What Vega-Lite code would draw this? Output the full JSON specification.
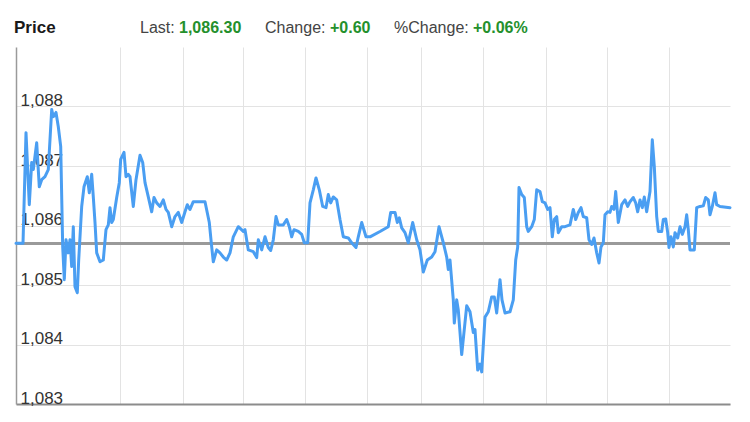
{
  "$schema": "https://vega.github.io/schema/vega-lite/v6.json",
  "autosize": "none",
  "width": 714,
  "height": 357,
  "padding": {"left": 16, "top": 47, "right": 20, "bottom": 18},
  "background": "white",
  "config": {
    "view": {"stroke": null},
    "font": "Liberation Sans",
    "axis": {"labelFont": "Liberation Sans", "titleFont": "Liberation Sans"}
  },
  "datasets": {
    "price": [
      {"t":0,"v":1085.70},{"t":7,"v":1085.70},{"t":10,"v":1087.56},{"t":13.3,"v":1086.35},{"t":15.7,"v":1087.06},{"t":17.3,"v":1086.94},{"t":20.7,"v":1087.39},{"t":23.3,"v":1086.65},{"t":25.7,"v":1086.77},{"t":29,"v":1086.82},{"t":32.3,"v":1086.94},{"t":35.7,"v":1087.95},{"t":37.3,"v":1087.83},{"t":40,"v":1087.90},{"t":42.3,"v":1087.66},{"t":44.7,"v":1087.33},{"t":46.7,"v":1085.64},{"t":48.3,"v":1085.09},{"t":50,"v":1085.76},{"t":52.3,"v":1085.54},{"t":54,"v":1085.76},{"t":55.7,"v":1085.31},{"t":57.3,"v":1085.98},{"t":59,"v":1084.97},{"t":61.3,"v":1084.87},{"t":62.7,"v":1085.42},{"t":65.7,"v":1086.32},{"t":68,"v":1086.65},{"t":71.3,"v":1086.82},{"t":73.3,"v":1086.55},{"t":75.7,"v":1086.86},{"t":77.3,"v":1086.48},{"t":79,"v":1086.05},{"t":80.7,"v":1085.54},{"t":84,"v":1085.39},{"t":87.3,"v":1085.42},{"t":90,"v":1085.93},{"t":92.3,"v":1086.01},{"t":94,"v":1086.30},{"t":95.7,"v":1086.05},{"t":97.3,"v":1086.10},{"t":100.7,"v":1086.47},{"t":103.3,"v":1086.72},{"t":104.7,"v":1087.11},{"t":108,"v":1087.23},{"t":110,"v":1086.82},{"t":112.3,"v":1086.86},{"t":114,"v":1086.82},{"t":117.3,"v":1086.32},{"t":120,"v":1086.77},{"t":124,"v":1087.18},{"t":126.7,"v":1087.06},{"t":129,"v":1086.72},{"t":132.3,"v":1086.48},{"t":135.7,"v":1086.23},{"t":138,"v":1086.47},{"t":140.7,"v":1086.38},{"t":144,"v":1086.32},{"t":147.3,"v":1086.43},{"t":150,"v":1086.27},{"t":152.3,"v":1086.22},{"t":155.7,"v":1085.98},{"t":159,"v":1086.15},{"t":162.3,"v":1086.22},{"t":165.7,"v":1086.05},{"t":169,"v":1086.23},{"t":171.3,"v":1086.35},{"t":174,"v":1086.27},{"t":177.3,"v":1086.40},{"t":180.7,"v":1086.40},{"t":189,"v":1086.40},{"t":193.3,"v":1086.05},{"t":195.7,"v":1085.64},{"t":197.3,"v":1085.39},{"t":200.7,"v":1085.59},{"t":204,"v":1085.54},{"t":207.3,"v":1085.47},{"t":210.7,"v":1085.42},{"t":214,"v":1085.54},{"t":217.3,"v":1085.81},{"t":222.3,"v":1085.98},{"t":227.3,"v":1085.90},{"t":229,"v":1085.93},{"t":232.3,"v":1085.59},{"t":237.3,"v":1085.56},{"t":240.7,"v":1085.46},{"t":242.3,"v":1085.76},{"t":245.7,"v":1085.59},{"t":249,"v":1085.81},{"t":252.3,"v":1085.63},{"t":254.7,"v":1085.58},{"t":257.3,"v":1085.76},{"t":260,"v":1086.15},{"t":262.3,"v":1086.01},{"t":267.3,"v":1086.01},{"t":270.7,"v":1086.10},{"t":273.3,"v":1085.98},{"t":275.7,"v":1085.81},{"t":278,"v":1085.93},{"t":282.3,"v":1085.90},{"t":285.7,"v":1085.85},{"t":288.3,"v":1085.71},{"t":291.7,"v":1085.71},{"t":294,"v":1086.38},{"t":297.3,"v":1086.60},{"t":300,"v":1086.80},{"t":303.3,"v":1086.60},{"t":306.7,"v":1086.32},{"t":310,"v":1086.30},{"t":312.3,"v":1086.52},{"t":314.7,"v":1086.38},{"t":317.3,"v":1086.48},{"t":320.7,"v":1086.43},{"t":324,"v":1086.10},{"t":327.3,"v":1085.81},{"t":332.3,"v":1085.79},{"t":335.7,"v":1085.71},{"t":340,"v":1085.63},{"t":342.3,"v":1085.81},{"t":345.7,"v":1086.05},{"t":350,"v":1085.81},{"t":354,"v":1085.81},{"t":364,"v":1085.90},{"t":372.3,"v":1085.98},{"t":374.7,"v":1086.22},{"t":379,"v":1086.22},{"t":381.3,"v":1086.05},{"t":383.3,"v":1086.13},{"t":385.7,"v":1085.96},{"t":389,"v":1085.88},{"t":392.3,"v":1085.71},{"t":396.7,"v":1086.05},{"t":400.7,"v":1085.76},{"t":404,"v":1085.59},{"t":407.3,"v":1085.22},{"t":411.3,"v":1085.42},{"t":415.7,"v":1085.47},{"t":419,"v":1085.56},{"t":423,"v":1085.98},{"t":427.3,"v":1085.71},{"t":430.7,"v":1085.47},{"t":432.3,"v":1085.26},{"t":434,"v":1085.42},{"t":437.3,"v":1084.75},{"t":438.3,"v":1084.36},{"t":440.7,"v":1084.75},{"t":442.3,"v":1084.58},{"t":445.7,"v":1083.83},{"t":450.7,"v":1084.65},{"t":454,"v":1084.55},{"t":457.3,"v":1084.20},{"t":459,"v":1084.25},{"t":461.7,"v":1083.57},{"t":464,"v":1083.67},{"t":465.7,"v":1083.54},{"t":469,"v":1084.46},{"t":472.3,"v":1084.55},{"t":475.7,"v":1084.80},{"t":478.3,"v":1084.80},{"t":480.7,"v":1084.53},{"t":484,"v":1085.09},{"t":486,"v":1084.75},{"t":489,"v":1084.53},{"t":494,"v":1084.55},{"t":497.3,"v":1084.75},{"t":499.7,"v":1085.42},{"t":501.7,"v":1085.64},{"t":503,"v":1086.64},{"t":505.7,"v":1086.52},{"t":508.3,"v":1086.47},{"t":510.7,"v":1085.98},{"t":512.3,"v":1085.90},{"t":515.7,"v":1085.98},{"t":518.3,"v":1086.10},{"t":520.7,"v":1086.60},{"t":524,"v":1086.57},{"t":526.3,"v":1086.40},{"t":529,"v":1086.38},{"t":531.7,"v":1086.27},{"t":534,"v":1086.30},{"t":536.3,"v":1085.81},{"t":538.3,"v":1086.10},{"t":540.7,"v":1086.15},{"t":542.3,"v":1085.88},{"t":545.7,"v":1085.98},{"t":549,"v":1085.98},{"t":554,"v":1086.01},{"t":557.3,"v":1086.27},{"t":559.7,"v":1086.10},{"t":562.3,"v":1086.22},{"t":565,"v":1086.30},{"t":567.3,"v":1086.15},{"t":570.7,"v":1086.13},{"t":573,"v":1085.76},{"t":575.7,"v":1085.68},{"t":578,"v":1085.79},{"t":580.7,"v":1085.54},{"t":583,"v":1085.37},{"t":585,"v":1085.64},{"t":587.3,"v":1085.71},{"t":589,"v":1086.18},{"t":591.7,"v":1086.23},{"t":594,"v":1086.22},{"t":595.7,"v":1086.32},{"t":598,"v":1086.27},{"t":599.7,"v":1086.57},{"t":602.3,"v":1086.05},{"t":605.7,"v":1086.35},{"t":609,"v":1086.43},{"t":611.7,"v":1086.32},{"t":614,"v":1086.40},{"t":617.3,"v":1086.47},{"t":619.7,"v":1086.38},{"t":621.7,"v":1086.23},{"t":624,"v":1086.43},{"t":626.3,"v":1086.30},{"t":628.3,"v":1086.48},{"t":630.7,"v":1086.23},{"t":632.3,"v":1086.40},{"t":634,"v":1086.57},{"t":636.3,"v":1087.44},{"t":638.3,"v":1086.99},{"t":640.7,"v":1086.15},{"t":642.3,"v":1085.90},{"t":645.7,"v":1085.90},{"t":647.3,"v":1086.10},{"t":649.7,"v":1086.11},{"t":651.7,"v":1085.88},{"t":653,"v":1085.63},{"t":655,"v":1085.81},{"t":657.3,"v":1085.64},{"t":659,"v":1085.88},{"t":661.7,"v":1085.79},{"t":664,"v":1085.98},{"t":666.3,"v":1085.85},{"t":669,"v":1085.98},{"t":670.7,"v":1086.18},{"t":672.3,"v":1085.93},{"t":674,"v":1085.59},{"t":678.3,"v":1085.59},{"t":680.7,"v":1086.30},{"t":684,"v":1086.32},{"t":687.3,"v":1086.33},{"t":689.7,"v":1086.47},{"t":692.3,"v":1086.43},{"t":694,"v":1086.18},{"t":696.3,"v":1086.32},{"t":699,"v":1086.55},{"t":700.7,"v":1086.35},{"t":704,"v":1086.32},{"t":714,"v":1086.30}
    ],
    "header": [
      {"item": "Price", "kind": "title"},
      {"item": "Last:", "kind": "label"},
      {"item": "1,086.30", "kind": "value"},
      {"item": "Change:", "kind": "label"},
      {"item": "+0.60", "kind": "value"},
      {"item": "%Change:", "kind": "label"},
      {"item": "+0.06%", "kind": "value"}
    ]
  },
  "layer": [
    {
      "data": {"name": "price"},
      "mark": {"type": "rule", "color": "#9a9a9a", "strokeWidth": 2.5},
      "encoding": {"y": {"datum": 1085.70, "type": "quantitative", "scale": {"domain": [1083, 1089], "nice": false, "zero": false}}}
    },
    {
      "data": {"name": "price"},
      "mark": {"type": "line", "color": "#4a9ef2", "strokeWidth": 3, "strokeJoin": "round", "strokeCap": "round", "interpolate": "linear"},
      "encoding": {
        "x": {
          "field": "t", "type": "quantitative",
          "scale": {"domain": [0, 714], "nice": false, "zero": false},
          "axis": {
            "title": null, "labels": false, "ticks": false,
            "values": [104, 166.7, 227.3, 289, 351.3, 405, 467.3, 530, 590.7, 653.3],
            "grid": true, "gridColor": "#e3e3e3", "gridWidth": 1,
            "domain": true, "domainColor": "#8c8c8c", "domainWidth": 2
          }
        },
        "y": {
          "field": "v", "type": "quantitative",
          "scale": {"domain": [1083, 1089], "nice": false, "zero": false},
          "axis": {
            "title": null, "ticks": false,
            "values": [1083, 1084, 1085, 1086, 1087, 1088],
            "format": ",d",
            "labelAlign": "left", "labelBaseline": "alphabetic", "labelPadding": -4, "labelOffset": -1,
            "labelFontSize": 17, "labelColor": "#333333",
            "grid": true, "gridColor": "#e3e3e3", "gridWidth": 1,
            "domain": true, "domainColor": "#9a9a9a", "domainWidth": 1.5
          }
        }
      }
    },
    {
      "data": {"name": "header"},
      "transform": [{"filter": "datum.item === 'Price'"}],
      "mark": {"type": "text", "x": -2, "y": -14, "align": "left", "baseline": "alphabetic", "fontSize": 17, "fontWeight": "bold", "color": "#1a1a1a"},
      "encoding": {"text": {"field": "item"}}
    },
    {
      "data": {"name": "header"},
      "transform": [{"filter": "datum.item === 'Last:'"}],
      "mark": {"type": "text", "x": 124, "y": -14, "align": "left", "baseline": "alphabetic", "fontSize": 16, "color": "#444444"},
      "encoding": {"text": {"field": "item"}}
    },
    {
      "data": {"name": "header"},
      "transform": [{"filter": "datum.item === '1,086.30'"}],
      "mark": {"type": "text", "x": 163, "y": -14, "align": "left", "baseline": "alphabetic", "fontSize": 16, "fontWeight": "bold", "color": "#24902c"},
      "encoding": {"text": {"field": "item"}}
    },
    {
      "data": {"name": "header"},
      "transform": [{"filter": "datum.item === 'Change:'"}],
      "mark": {"type": "text", "x": 249, "y": -14, "align": "left", "baseline": "alphabetic", "fontSize": 16, "color": "#444444"},
      "encoding": {"text": {"field": "item"}}
    },
    {
      "data": {"name": "header"},
      "transform": [{"filter": "datum.item === '+0.60'"}],
      "mark": {"type": "text", "x": 314, "y": -14, "align": "left", "baseline": "alphabetic", "fontSize": 16, "fontWeight": "bold", "color": "#24902c"},
      "encoding": {"text": {"field": "item"}}
    },
    {
      "data": {"name": "header"},
      "transform": [{"filter": "datum.item === '%Change:'"}],
      "mark": {"type": "text", "x": 378, "y": -14, "align": "left", "baseline": "alphabetic", "fontSize": 16, "color": "#444444"},
      "encoding": {"text": {"field": "item"}}
    },
    {
      "data": {"name": "header"},
      "transform": [{"filter": "datum.item === '+0.06%'"}],
      "mark": {"type": "text", "x": 457, "y": -14, "align": "left", "baseline": "alphabetic", "fontSize": 16, "fontWeight": "bold", "color": "#24902c"},
      "encoding": {"text": {"field": "item"}}
    }
  ]
}
